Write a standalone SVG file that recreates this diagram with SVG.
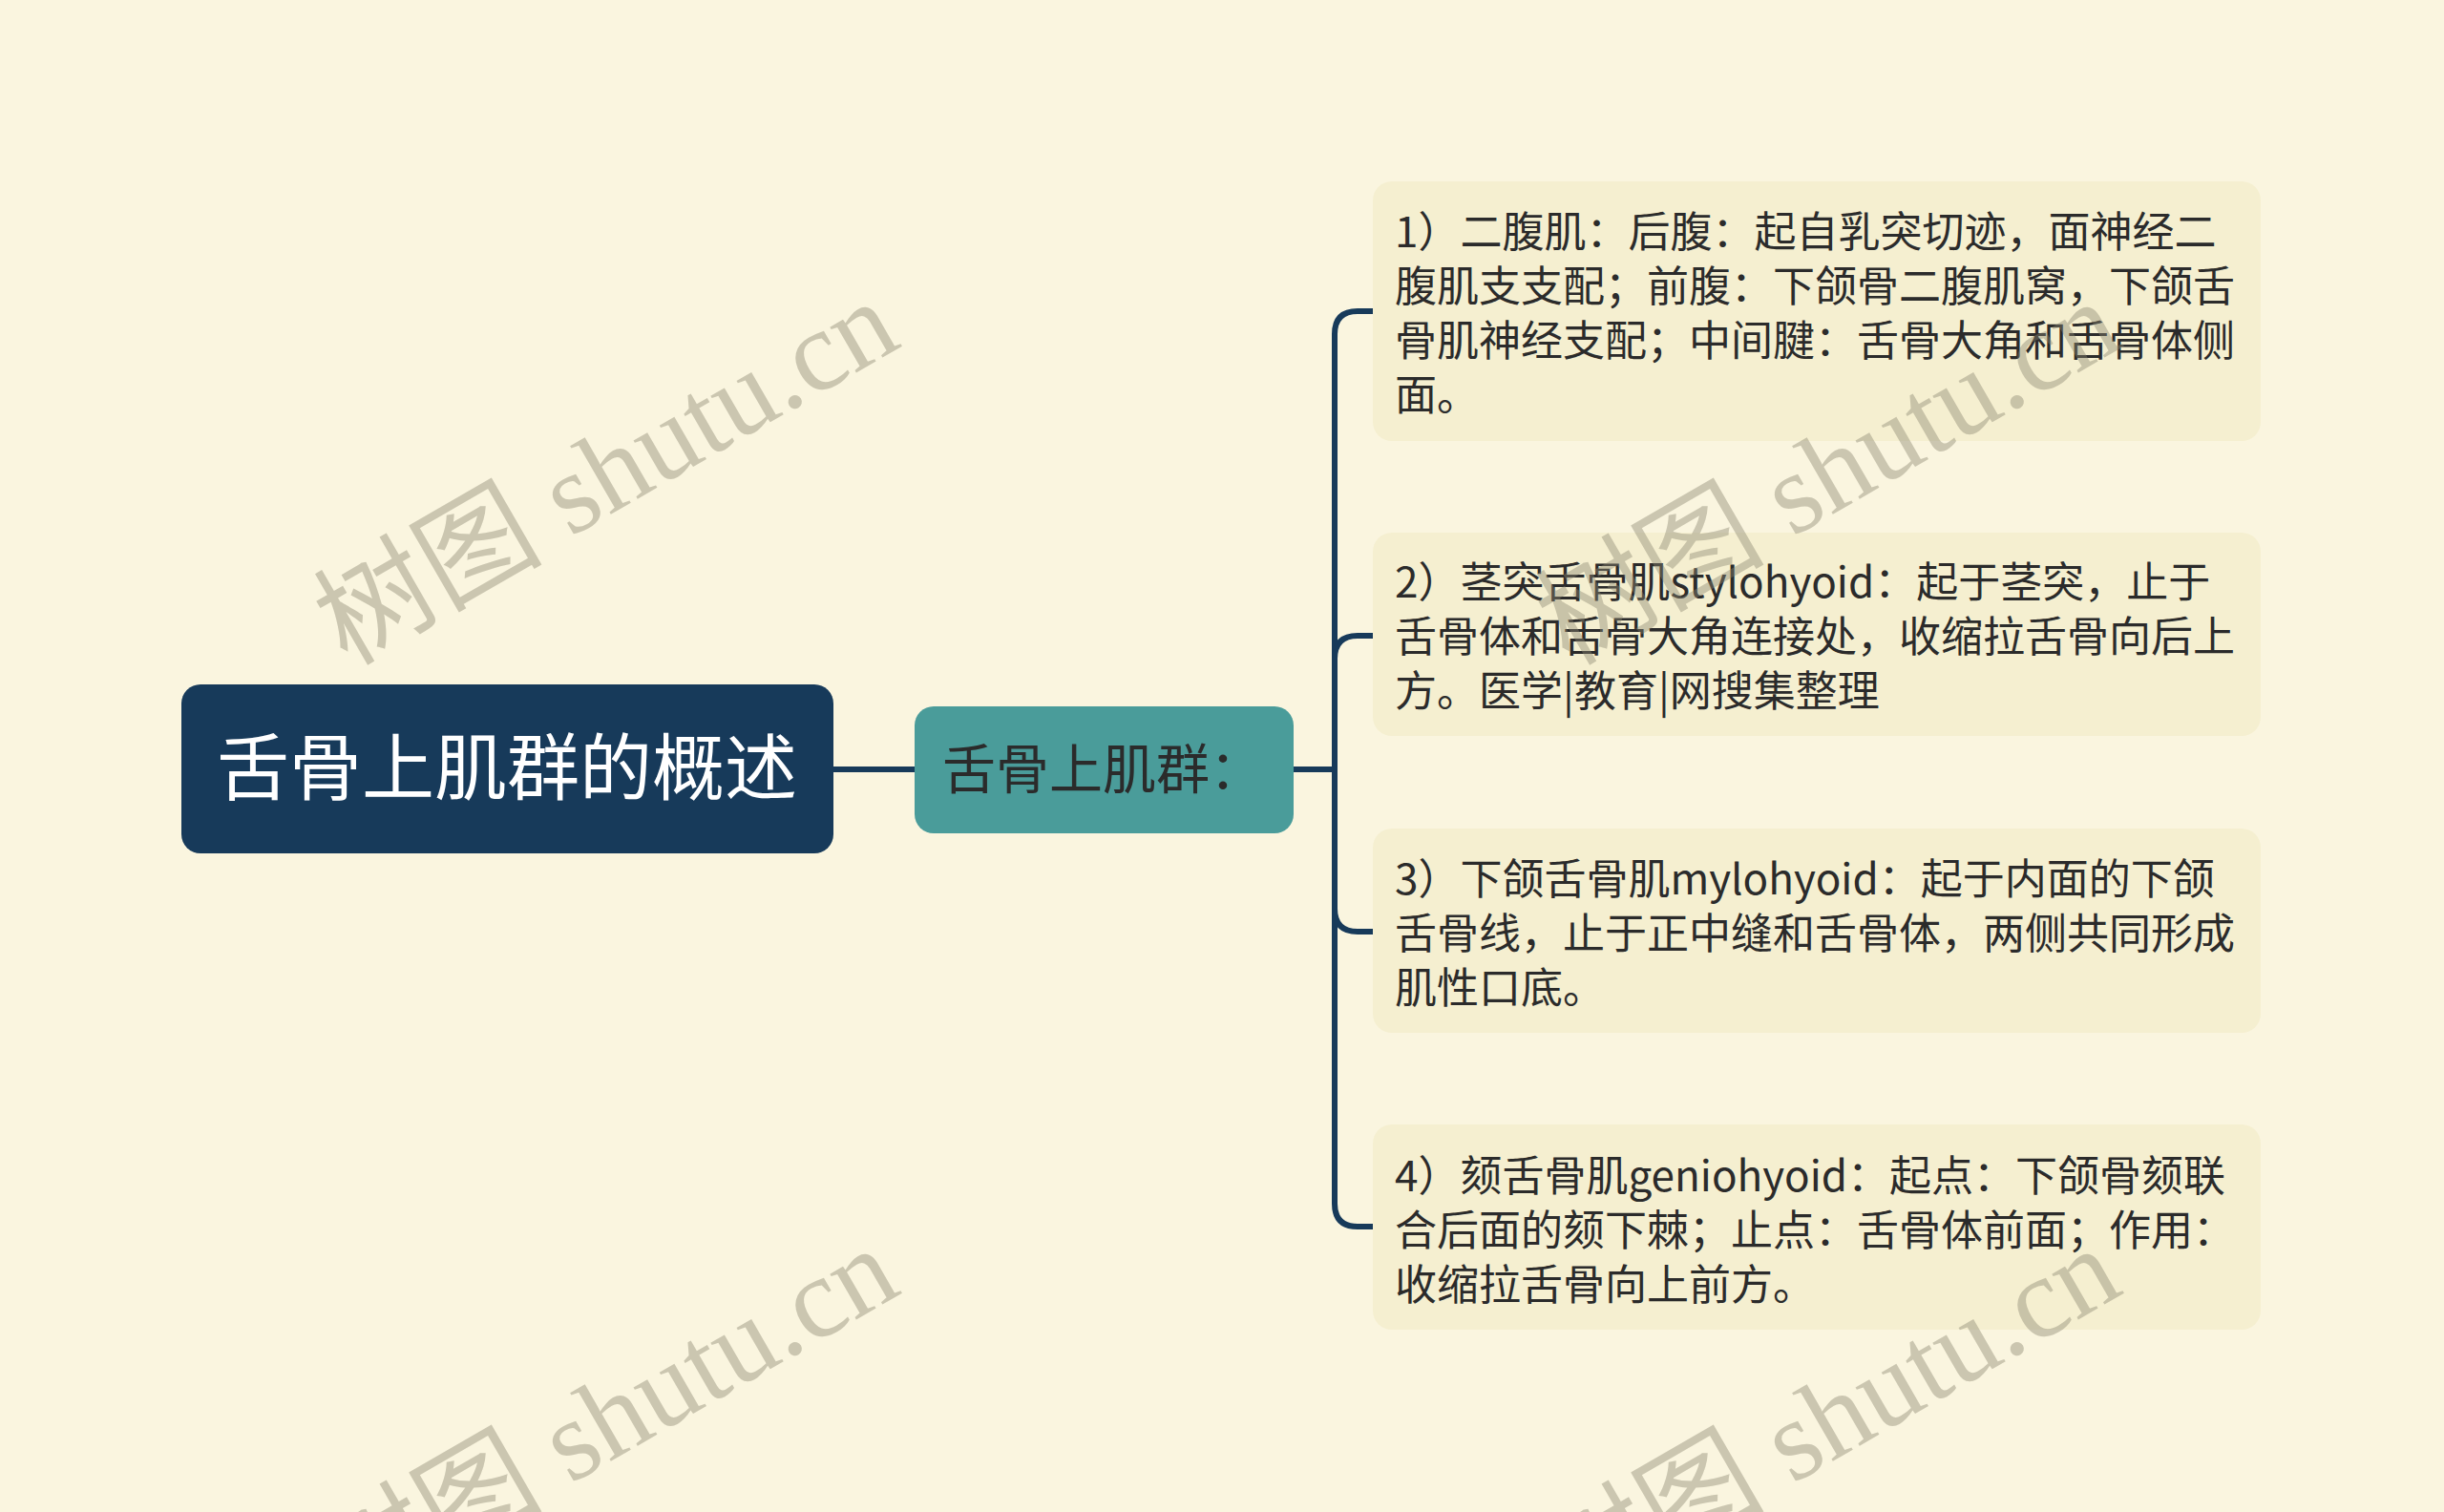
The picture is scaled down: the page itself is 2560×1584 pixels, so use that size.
<svg xmlns="http://www.w3.org/2000/svg" width="2560" height="1584" viewBox="0 0 2560 1584">
<style>
.bg{fill:#faf5df}
.conn{fill:none;stroke:#173a5a;stroke-width:6;stroke-linecap:butt;stroke-linejoin:round}
.leaf rect{fill:#f5efd0}
.leaf text{font-family:"Noto Sans CJK SC","Noto Sans",sans-serif;font-size:44px;fill:#2b2b2b}
.wm{font-family:"Liberation Serif","Noto Sans CJK SC",serif;font-size:120px;fill:#8a8670;fill-opacity:0.42}
</style>
<rect class="bg" x="0" y="0" width="2560" height="1584"/>
<g id="connectors">
<path class="conn" d="M873,806 H958"/>
<path class="conn" d="M1355,806 H1398 V350 Q1398,326 1422,326 H1438"/>
<path class="conn" d="M1355,806 H1398 V690 Q1398,666 1422,666 H1438"/>
<path class="conn" d="M1355,806 H1398 V952 Q1398,976 1422,976 H1438"/>
<path class="conn" d="M1355,806 H1398 V1261 Q1398,1285 1422,1285 H1438"/>
</g>
<g id="root">
<rect x="190" y="717" width="683" height="177" rx="20" fill="#173a5a"/>
<text x="531" y="832" text-anchor="middle" font-family="Noto Sans CJK SC, Noto Sans, sans-serif" font-size="76" fill="#ffffff">舌骨上肌群的概述</text>
</g>
<g id="main">
<rect x="958" y="740" width="397" height="133" rx="20" fill="#4a9c9a"/>
<text x="987" y="826" font-family="Noto Sans CJK SC, Noto Sans, sans-serif" font-size="56" fill="#2b2b2b">舌骨上肌群：</text>
</g>
<g id="leaf1" class="leaf">
<rect x="1438" y="190" width="930" height="272" rx="20"/>
<text x="1461" y="259">1）二腹肌：后腹：起自乳突切迹，面神经二</text>
<text x="1461" y="316">腹肌支支配；前腹：下颌骨二腹肌窝，下颌舌</text>
<text x="1461" y="373">骨肌神经支配；中间腱：舌骨大角和舌骨体侧</text>
<text x="1461" y="430">面。</text>
</g>
<g id="leaf2" class="leaf">
<rect x="1438" y="558" width="930" height="213" rx="20"/>
<text x="1461" y="626">2）茎突舌骨肌stylohyoid：起于茎突，止于</text>
<text x="1461" y="683">舌骨体和舌骨大角连接处，收缩拉舌骨向后上</text>
<text x="1461" y="740">方。医学|教育|网搜集整理</text>
</g>
<g id="leaf3" class="leaf">
<rect x="1438" y="868" width="930" height="214" rx="20"/>
<text x="1461" y="937">3）下颌舌骨肌mylohyoid：起于内面的下颌</text>
<text x="1461" y="994">舌骨线，止于正中缝和舌骨体，两侧共同形成</text>
<text x="1461" y="1051">肌性口底。</text>
</g>
<g id="leaf4" class="leaf">
<rect x="1438" y="1178" width="930" height="215" rx="20"/>
<text x="1461" y="1248">4）颏舌骨肌geniohyoid：起点：下颌骨颏联</text>
<text x="1461" y="1305">合后面的颏下棘；止点：舌骨体前面；作用：</text>
<text x="1461" y="1362">收缩拉舌骨向上前方。</text>
</g>
<g id="watermarks">
<text class="wm" text-anchor="middle" transform="translate(655,530) rotate(-30)">树图 shutu.cn</text>
<text class="wm" text-anchor="middle" transform="translate(1935,530) rotate(-30)">树图 shutu.cn</text>
<text class="wm" text-anchor="middle" transform="translate(655,1522) rotate(-30)">树图 shutu.cn</text>
<text class="wm" text-anchor="middle" transform="translate(1935,1522) rotate(-30)">树图 shutu.cn</text>
</g>
</svg>
